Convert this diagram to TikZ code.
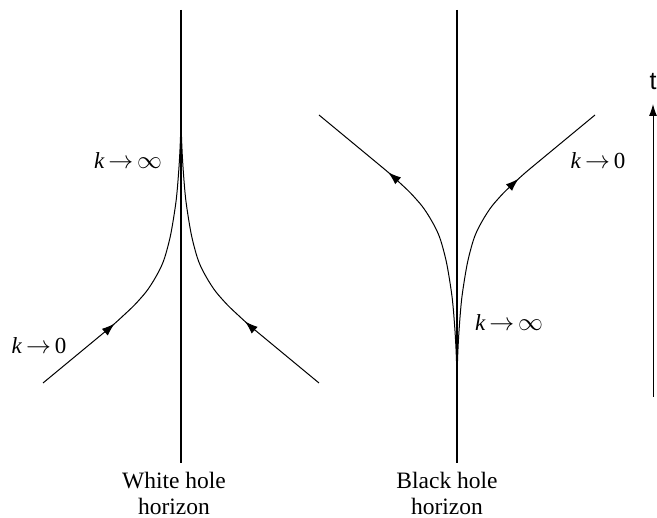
\documentclass[tikz,border=0pt]{standalone}
\usepackage{fontspec}
\setmainfont{Liberation Serif}
\newfontfamily\tfont{Liberation Sans}
\usetikzlibrary{arrows.meta,decorations.markings}
\tikzset{
  axisline/.style={line width=1.1pt, black},
  curveline/.style={line width=1pt, black},
  fwd/.style={postaction={decorate},decoration={markings,mark=at position #1 with {\arrow{Latex[length=13pt,width=9pt]}}}},
  bwd/.style={postaction={decorate},decoration={markings,mark=at position #1 with {\arrowreversed{Latex[length=13pt,width=9pt]}}}},
  lbl/.style={inner sep=0pt, font=\fontsize{23}{26}\selectfont},
  captext/.style={inner sep=0pt, align=center, font=\fontsize{23.5}{26}\selectfont}
}
\def\branchpts{(0,0) (0.6,25) (2,52) (4.8,85) (10,118) (15.5,140) (20,152) (27,165) (35,177) (46.5,190) (57,200) (68,210) (86,225) (138,268)}
\begin{document}
\begin{tikzpicture}[x=1pt,y=-1pt]
\useasboundingbox (0,0) rectangle (657,518);
% vertical horizon lines
\coordinate (wtop) at (181,10); \coordinate (wbot) at (181,463);
\coordinate (btop) at (457,10); \coordinate (bbot) at (457,463);
\draw[axisline] (wtop) -- (wbot);
\draw[axisline] (btop) -- (bbot);
% white hole branches
\begin{scope}[shift={(181,115)}, xscale=-1]
  \draw[curveline, bwd=0.71] plot[smooth, tension=0.5] coordinates {\branchpts};
\end{scope}
\begin{scope}[shift={(181,115)}]
  \draw[curveline, bwd=0.70] plot[smooth, tension=0.5] coordinates {\branchpts};
\end{scope}
% black hole branches
\begin{scope}[shift={(457,383)}, xscale=-1, yscale=-1]
  \draw[curveline, fwd=0.72] plot[smooth, tension=0.5] coordinates {\branchpts};
\end{scope}
\begin{scope}[shift={(457,383)}, yscale=-1]
  \draw[curveline, fwd=0.69] plot[smooth, tension=0.5] coordinates {\branchpts};
\end{scope}
% labels
\node[lbl] (wkinf) at (128,161) {\textit{k}\,$\rightarrow$\,$\infty$};
\node[lbl] (wk0) at (39,346) {\textit{k}\,$\rightarrow$\,0};
\node[lbl] (bk0) at (598,161) {\textit{k}\,$\rightarrow$\,0};
\node[lbl] (bkinf) at (509,323) {\textit{k}\,$\rightarrow$\,$\infty$};
\node[captext] (wcap) at (174,493) {White hole\\horizon};
\node[captext] (bcap) at (447,493) {Black hole\\horizon};
% time arrow
\coordinate (tbot) at (653,397); \coordinate (ttop) at (653,104);
\draw[line width=1pt, -{Latex[length=12pt,width=8pt]}] (tbot) -- (ttop);
\node[inner sep=0pt, font=\tfont\fontsize{25}{28}\selectfont] (tl) at (653,82) {t};
\end{tikzpicture}
\end{document}
